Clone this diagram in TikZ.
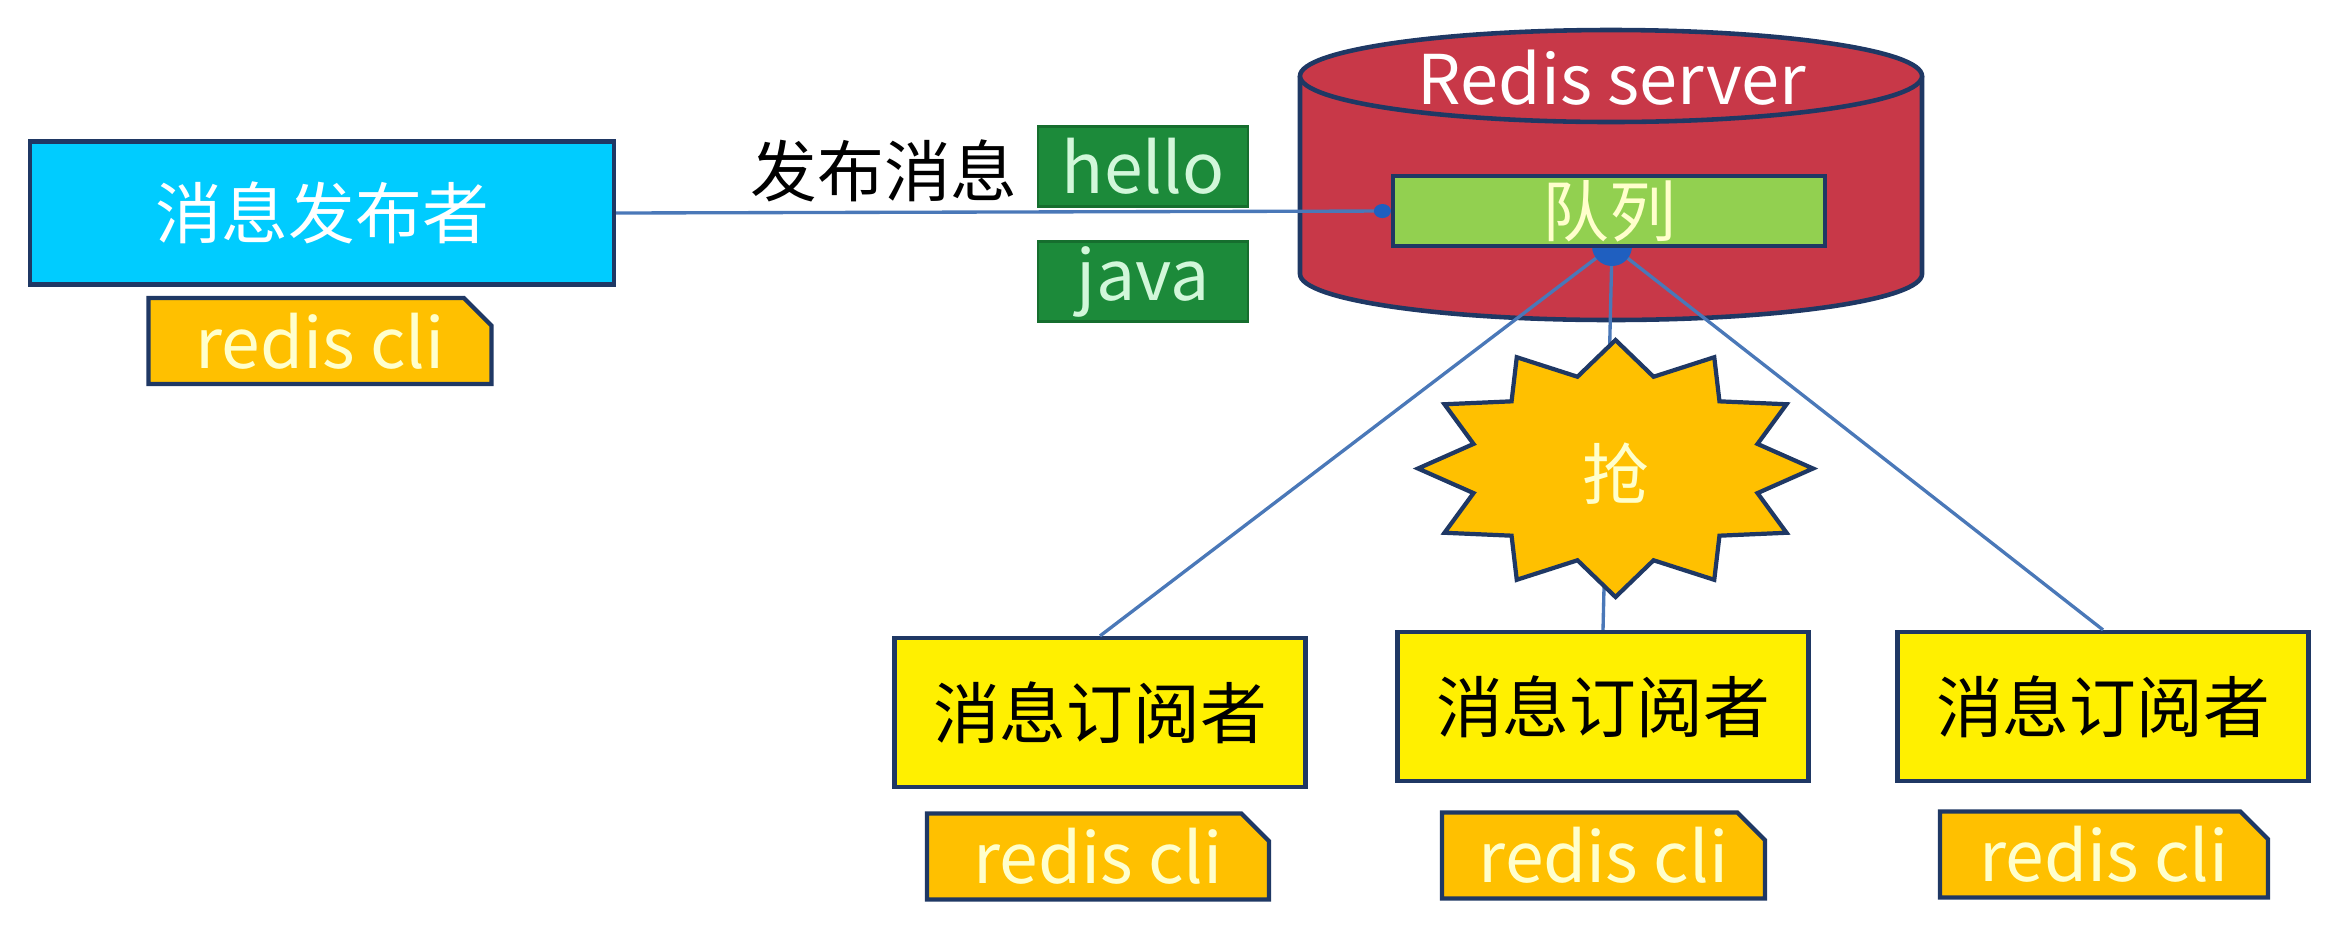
\documentclass[tikz,border=0pt]{standalone}
\usepackage{fontspec}
\setmainfont{Noto Sans CJK SC}
\usetikzlibrary{shapes.misc, arrows.meta}

\definecolor{navy}{HTML}{1F3864}
\definecolor{wireblue}{HTML}{4A78B8}
\definecolor{dotblue}{HTML}{1F5FC0}
\definecolor{pubcyan}{HTML}{00CCFF}
\definecolor{cliorange}{HTML}{FFC000}
\definecolor{clitext}{HTML}{FFFFCC}
\definecolor{msggreen}{HTML}{1C8A3A}
\definecolor{msgtext}{HTML}{D2F7DA}
\definecolor{srvred}{HTML}{C83848}
\definecolor{queuegreen}{HTML}{92D050}
\definecolor{subyellow}{HTML}{FFF000}

\newcommand{\cnsize}{\fontsize{19pt}{23pt}\selectfont}
\newcommand{\ensize}{\fontsize{19.8pt}{24pt}\selectfont}

\tikzset{
    box/.style={draw=navy, line width=1.2pt, inner sep=0pt},
    pubbox/.style={box, fill=pubcyan, text=white, font=\cnsize,
        minimum width=5.84cm, minimum height=1.43cm},
    subbox/.style={box, fill=subyellow, text=black, font=\cnsize,
        minimum width=4.11cm, minimum height=1.49cm},
    clibox/.style={box, chamfered rectangle, chamfered rectangle corners=north east,
        chamfered rectangle xsep=0.15cm, fill=cliorange, text=clitext, font=\ensize,
        minimum width=3.3cm, minimum height=0.86cm},
    msgbox/.style={draw=msggreen!80!black, line width=0.8pt, fill=msggreen, text=msgtext,
        font=\ensize, inner sep=0pt, minimum width=2.1cm, minimum height=0.8cm},
    queuebox/.style={box, fill=queuegreen, text=clitext, font=\cnsize,
        minimum width=4.32cm, minimum height=0.7cm},
    srvbody/.style={draw=navy, line width=1.3pt, fill=srvred},
    burst/.style={draw=navy, line width=1.2pt, fill=cliorange},
    wire/.style={draw=wireblue, line width=0.95pt},
}

\begin{document}
\begin{tikzpicture}
    \useasboundingbox (0,0) rectangle (23.36,-9.29);

    \filldraw[srvbody] (13.0,-0.76) -- (13.0,-2.74)
        arc[start angle=180, end angle=360, x radius=3.11, y radius=0.46] -- (19.22,-0.76);
    \filldraw[srvbody] (16.11,-0.76) ellipse[x radius=3.11, y radius=0.46];
    \node[text=white, font=\fontsize{19.5pt}{23pt}\selectfont] (srv) at (16.12,-0.78) {Redis server};

    \node[subbox] (sub1) at (11.0,-7.125) {消息订阅者};
    \node[subbox] (sub2) at (16.03,-7.065) {消息订阅者};
    \node[subbox] (sub3) at (21.03,-7.065) {消息订阅者};
    \node[clibox, minimum width=3.42cm] (cli1) at (10.98,-8.565) {redis cli};
    \node[clibox, minimum width=3.23cm] (cli2) at (16.035,-8.555) {redis cli};
    \node[clibox, minimum width=3.28cm] (cli3) at (21.04,-8.545) {redis cli};

    \coordinate (qdot) at (16.12,-2.46);
    \draw[wire] (qdot) -- (sub1.north);
    \draw[wire] (qdot) -- (sub2.north);
    \draw[wire] (qdot) -- (sub3.north);
    \fill[dotblue] (qdot) circle (0.2);
    \node[queuebox] (queue) at (16.09,-2.11) {队列};

    \node[pubbox] (pub) at (3.22,-2.13) {消息发布者};
    \node[clibox, minimum width=3.43cm] (pubcli) at (3.2,-3.41) {redis cli};

    \node[font=\cnsize] (send) at (8.84,-1.71) {发布消息};
    \node[msgbox] (hello) at (11.43,-1.665) {hello};
    \node[msgbox] (java) at (11.43,-2.815) {java};

    \draw[wire, -{Circle[length=0.17cm, width=0.14cm, color=dotblue]}] (pub.east) -- (queue.west);

    \begin{scope}[shift={(16.155,-4.685)}]
        \filldraw[burst] (90:1.975 and 1.285)
            \foreach \a in {90,120,...,420} {-- (\a:1.975 and 1.285) -- (\a+15:1.47 and 0.95)} -- cycle;
    \end{scope}
    \node[text=clitext, font=\cnsize] (grab) at (16.155,-4.74) {抢};
\end{tikzpicture}
\end{document}
